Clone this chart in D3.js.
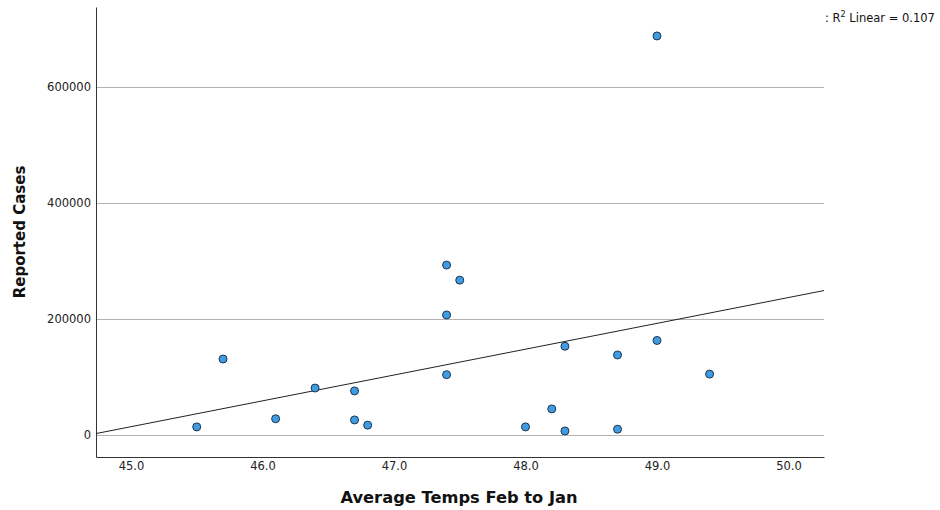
<!DOCTYPE html>
<meta charset="utf-8">
<style>
body { margin: 0; background: #fff; }
.tick text { font-family: "DejaVu Sans", sans-serif; font-size: 11.5px; fill: #222; }
.title { font-family: "DejaVu Sans", sans-serif; font-weight: bold; font-size: 16.3px; fill: #111; }
.ytitle { font-size: 15px; }
.grid line { stroke: #b4b4b4; stroke-width: 1; }
.dot { fill: #3f9ce3; stroke: #1d3550; stroke-width: 1; }
.fit { stroke: #222; stroke-width: 1; fill: none; }
</style>
<body>
<script src="https://d3js.org/d3.v7.min.js"></script>
<script>
// average temperature (Feb to Jan) per observation
var temps = [45.5, 45.7, 46.1, 46.4, 46.7, 46.7, 46.8, 47.4, 47.5, 47.4,
             47.4, 48.0, 48.2, 48.3, 48.3, 48.7, 48.7, 49.0, 49.0, 49.4];
// reported cases, same order
var cases = [14000, 131000, 28000, 81000, 76000, 26000, 17000, 293000, 267000, 207000,
             104000, 14000, 45000, 153000, 7000, 138000, 10000, 163000, 688000, 105000];
var xTicks = [45, 46, 47, 48, 49, 50];
var yTicks = [0, 200000, 400000, 600000];
var r2Label = "Linear = 0.107";

var margin = {top: 7, right: 116, bottom: 53, left: 96},
    width = 940 - margin.left - margin.right,
    height = 510 - margin.top - margin.bottom;

var x = d3.scaleLinear().domain([44.734, 50.27]).range([0, width]);
var y = d3.scaleLinear().domain([-37900, 737900]).range([height, 0]);

var svg = d3.select("body").append("svg")
    .attr("width", 940).attr("height", 510);
var g = svg.append("g")
    .attr("transform", "translate(" + margin.left + "," + margin.top + ")");

// horizontal grid
g.append("g").attr("class", "grid")
  .selectAll("line").data(yTicks).enter().append("line")
    .attr("x1", 0).attr("x2", width)
    .attr("y1", function(d) { return Math.round(y(d)) + 0.5; })
    .attr("y2", function(d) { return Math.round(y(d)) + 0.5; });

// axes
var yAxis = g.append("g")
    .call(d3.axisLeft(y).tickValues(yTicks).tickSize(0).tickPadding(5).tickFormat(d3.format("d")));
yAxis.select(".domain").attr("stroke", "#333");

var xAxis = g.append("g")
    .attr("transform", "translate(0," + height + ")")
    .call(d3.axisBottom(x).tickValues(xTicks).tickSize(0).tickPadding(5).tickFormat(d3.format(".1f")));
xAxis.select(".domain").attr("stroke", "#333");

// least squares fit line
var n = temps.length;
var mx = d3.mean(temps), my = d3.mean(cases);
var sxy = 0, sxx = 0;
for (var i = 0; i < n; i++) {
  sxy += (temps[i] - mx) * (cases[i] - my);
  sxx += (temps[i] - mx) * (temps[i] - mx);
}
var slope = sxy / sxx, icpt = my - slope * mx;
var xd = x.domain();
g.append("line").attr("class", "fit")
  .attr("x1", x(xd[0])).attr("y1", y(icpt + slope * xd[0]))
  .attr("x2", x(xd[1])).attr("y2", y(icpt + slope * xd[1]));

// points
g.selectAll(".dot").data(temps).enter().append("circle")
  .attr("class", "dot")
  .attr("cx", function(d) { return x(d); })
  .attr("cy", function(d, i) { return y(cases[i]); })
  .attr("r", 4);

// axis titles
svg.append("text").attr("class", "title ytitle")
  .attr("text-anchor", "middle")
  .attr("transform", "translate(25,232) rotate(-90)")
  .text("Reported Cases");
svg.append("text").attr("class", "title")
  .attr("text-anchor", "middle")
  .attr("x", 459).attr("y", 503)
  .text("Average Temps Feb to Jan");

// R squared label
var lab = svg.append("text")
  .attr("x", 825).attr("y", 22)
  .style("font-family", "DejaVu Sans, sans-serif")
  .style("font-size", "11.5px").style("fill", "#111");
lab.append("tspan").text(": R");
lab.append("tspan").attr("dy", -5).style("font-size", "8px").text("2");
lab.append("tspan").attr("dy", 5).text(" " + r2Label);
</script>
</body>
